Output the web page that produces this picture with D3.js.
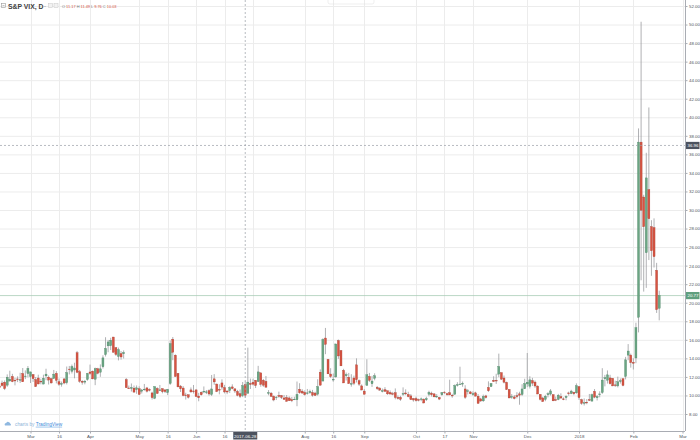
<!DOCTYPE html>
<html><head><meta charset="utf-8">
<script src="https://cdn.jsdelivr.net/npm/d3@7"></script>
<style>html,body{margin:0;padding:0;background:#fff;overflow:hidden}svg{display:block;font-family:"Liberation Sans",Arial,sans-serif}</style>
</head><body>
<svg id="c" width="700" height="440"></svg>
<script>
// ---- data ----
const dates = [
"2017-02-10","2017-02-13","2017-02-14","2017-02-15","2017-02-16","2017-02-17","2017-02-21","2017-02-22","2017-02-23","2017-02-24","2017-02-27","2017-02-28",
"2017-03-01","2017-03-02","2017-03-03","2017-03-06","2017-03-07","2017-03-08","2017-03-09","2017-03-10","2017-03-13","2017-03-14","2017-03-15","2017-03-16","2017-03-17","2017-03-20","2017-03-21","2017-03-22","2017-03-23","2017-03-24","2017-03-27","2017-03-28","2017-03-29","2017-03-30","2017-03-31",
"2017-04-03","2017-04-04","2017-04-05","2017-04-06","2017-04-07","2017-04-10","2017-04-11","2017-04-12","2017-04-13","2017-04-17","2017-04-18","2017-04-19","2017-04-20","2017-04-21","2017-04-24","2017-04-25","2017-04-26","2017-04-27","2017-04-28",
"2017-05-01","2017-05-02","2017-05-03","2017-05-04","2017-05-05","2017-05-08","2017-05-09","2017-05-10","2017-05-11","2017-05-12","2017-05-15","2017-05-16","2017-05-17","2017-05-18","2017-05-19","2017-05-22","2017-05-23","2017-05-24","2017-05-25","2017-05-26","2017-05-30","2017-05-31",
"2017-06-01","2017-06-02","2017-06-05","2017-06-06","2017-06-07","2017-06-08","2017-06-09","2017-06-12","2017-06-13","2017-06-14","2017-06-15","2017-06-16","2017-06-19","2017-06-20","2017-06-21","2017-06-22","2017-06-23","2017-06-26","2017-06-27","2017-06-28","2017-06-29","2017-06-30",
"2017-07-03","2017-07-05","2017-07-06","2017-07-07","2017-07-10","2017-07-11","2017-07-12","2017-07-13","2017-07-14","2017-07-17","2017-07-18","2017-07-19","2017-07-20","2017-07-21","2017-07-24","2017-07-25","2017-07-26","2017-07-27","2017-07-28","2017-07-31",
"2017-08-01","2017-08-02","2017-08-03","2017-08-04","2017-08-07","2017-08-08","2017-08-09","2017-08-10","2017-08-11","2017-08-14","2017-08-15","2017-08-16","2017-08-17","2017-08-18","2017-08-21","2017-08-22","2017-08-23","2017-08-24","2017-08-25","2017-08-28","2017-08-29","2017-08-30","2017-08-31",
"2017-09-01","2017-09-05","2017-09-06","2017-09-07","2017-09-08","2017-09-11","2017-09-12","2017-09-13","2017-09-14","2017-09-15","2017-09-18","2017-09-19","2017-09-20","2017-09-21","2017-09-22","2017-09-25","2017-09-26","2017-09-27","2017-09-28","2017-09-29",
"2017-10-02","2017-10-03","2017-10-04","2017-10-05","2017-10-06","2017-10-09","2017-10-10","2017-10-11","2017-10-12","2017-10-13","2017-10-16","2017-10-17","2017-10-18","2017-10-19","2017-10-20","2017-10-23","2017-10-24","2017-10-25","2017-10-26","2017-10-27","2017-10-30","2017-10-31",
"2017-11-01","2017-11-02","2017-11-03","2017-11-06","2017-11-07","2017-11-08","2017-11-09","2017-11-10","2017-11-13","2017-11-14","2017-11-15","2017-11-16","2017-11-17","2017-11-20","2017-11-21","2017-11-22","2017-11-24","2017-11-27","2017-11-28","2017-11-29","2017-11-30",
"2017-12-01","2017-12-04","2017-12-05","2017-12-06","2017-12-07","2017-12-08","2017-12-11","2017-12-12","2017-12-13","2017-12-14","2017-12-15","2017-12-18","2017-12-19","2017-12-20","2017-12-21","2017-12-22","2017-12-26","2017-12-27","2017-12-28","2017-12-29",
"2018-01-02","2018-01-03","2018-01-04","2018-01-05","2018-01-08","2018-01-09","2018-01-10","2018-01-11","2018-01-12","2018-01-16","2018-01-17","2018-01-18","2018-01-19","2018-01-22","2018-01-23","2018-01-24","2018-01-25","2018-01-26","2018-01-29","2018-01-30","2018-01-31",
"2018-02-01","2018-02-02","2018-02-05","2018-02-06","2018-02-07","2018-02-08","2018-02-09","2018-02-12","2018-02-13","2018-02-14","2018-02-15","2018-02-16","2018-02-20","2018-02-21","2018-02-22","2018-02-23","2018-02-26","2018-02-27","2018-02-28",
"2018-03-01","2018-03-02"];

const open = [
11.03,11.34,11.43,11.11,11.56,12.05,11.64,11.78,11.64,12.37,12.08,12.36,
12.05,12.25,11.72,11.88,11.54,11.23,12.11,11.97,11.80,11.83,12.38,11.48,11.21,11.78,11.37,12.84,12.61,12.75,14.60,12.56,11.54,11.44,11.72,
12.53,12.62,11.75,12.88,12.51,13.09,14.41,15.35,15.36,16.30,15.16,14.21,14.51,14.49,11.71,10.81,10.75,10.79,10.64,
10.72,10.46,10.68,10.81,10.64,10.27,9.69,10.75,10.53,10.73,10.60,10.31,11.29,16.07,14.34,12.38,11.01,10.80,10.05,10.07,10.60,10.48,
10.60,9.93,10.34,10.43,10.31,10.52,10.11,11.79,11.23,10.65,11.35,10.84,10.48,10.53,10.92,10.71,10.43,10.19,9.98,11.17,10.24,11.30,
11.42,11.63,11.50,12.44,11.64,11.52,10.29,10.25,9.91,9.75,10.00,9.99,9.73,9.78,9.73,9.56,9.60,9.53,10.67,10.47,
10.33,10.22,10.30,10.31,10.26,10.14,12.51,11.55,16.19,13.89,12.31,11.72,12.00,15.92,14.85,12.71,12.12,11.97,11.27,11.88,13.30,11.59,11.03,
10.47,11.10,12.05,11.26,11.85,10.88,10.78,10.48,10.61,10.50,10.32,10.20,10.30,9.79,9.79,10.20,10.27,10.10,9.95,9.66,
9.67,9.55,9.57,9.60,9.53,10.13,10.25,10.17,9.86,9.78,10.07,10.36,10.19,10.30,10.02,10.12,11.14,11.20,11.27,10.70,10.45,10.38,
10.09,10.28,9.92,9.63,9.42,9.95,10.86,10.96,11.64,11.63,12.30,12.46,11.88,11.41,10.65,9.81,9.84,9.98,10.17,10.10,10.72,
11.24,11.00,11.60,11.44,11.01,10.11,9.73,9.57,10.08,10.15,10.08,9.55,9.56,9.88,9.63,9.77,10.27,10.20,10.34,10.28,
10.95,9.54,9.17,9.27,9.55,9.39,10.44,9.75,10.12,10.31,11.80,11.65,11.89,11.85,11.14,11.03,11.50,11.80,12.05,14.35,14.35,
13.58,14.04,18.44,37.32,31.40,25.40,32.20,28.20,28.10,23.50,19.40];

const high = [
11.21,11.60,11.62,12.27,12.67,12.33,11.89,12.06,12.45,12.96,12.70,13.17,
12.55,12.30,11.99,12.24,11.80,12.24,12.88,12.15,11.90,12.75,12.62,11.82,11.50,11.88,13.12,13.18,13.33,13.53,14.80,12.75,11.64,11.67,12.43,
13.33,12.69,13.00,12.98,13.35,14.33,16.28,15.98,16.22,16.31,15.19,15.16,14.79,14.86,11.88,11.07,11.29,11.07,11.08,
10.99,10.70,11.24,10.92,10.76,10.40,10.96,10.88,11.13,10.76,10.65,10.70,15.92,16.30,14.43,12.42,11.13,11.01,10.29,10.10,10.86,11.13,
10.64,10.28,10.43,10.97,10.58,10.66,12.21,12.30,11.28,11.20,11.74,11.14,10.54,10.99,11.20,10.78,10.60,10.64,11.45,11.49,15.16,11.82,
11.80,11.66,13.19,12.45,11.78,12.10,10.58,10.38,10.01,9.93,10.41,10.05,10.05,10.05,9.90,9.84,9.86,11.50,11.32,10.68,
10.55,10.70,10.63,10.60,10.40,11.75,12.81,16.16,17.28,13.94,12.94,12.37,15.59,16.03,14.87,12.87,12.47,12.43,12.29,12.14,14.00,11.72,11.19,
10.68,13.90,12.43,12.11,12.39,11.02,10.91,10.75,10.90,10.52,10.54,10.39,10.76,10.00,9.96,10.87,10.66,10.40,10.15,9.74,
9.87,9.66,9.78,9.69,9.86,10.51,10.41,10.25,10.15,9.85,10.36,10.44,10.30,11.70,10.18,11.19,11.43,13.10,11.50,11.10,10.69,10.49,
10.44,10.40,10.15,9.75,10.09,10.07,11.52,11.32,12.07,12.34,14.51,12.46,12.15,11.49,10.67,10.15,10.04,10.35,10.40,11.21,11.80,
14.58,12.07,11.90,11.61,11.09,10.15,9.86,10.07,10.34,10.69,10.13,9.88,10.17,10.23,9.79,10.02,10.41,10.61,10.40,11.30,
10.99,9.65,9.68,9.61,10.16,10.20,10.69,10.04,10.45,12.94,12.22,12.70,12.23,11.86,11.59,12.03,11.83,11.83,14.16,15.54,14.51,
14.01,17.84,38.80,50.30,31.64,36.17,41.06,28.90,29.10,24.30,21.30];

const low = [
10.58,10.96,10.58,10.93,11.50,11.43,11.09,11.44,11.35,11.47,11.76,11.96,
11.34,11.46,10.92,11.20,11.20,11.20,11.65,11.18,11.28,11.79,11.30,11.04,10.95,11.21,11.19,12.27,12.37,11.85,12.40,11.36,11.16,11.20,11.59,
12.23,11.74,11.11,12.28,12.01,12.91,14.20,14.66,14.90,14.62,14.27,13.78,13.86,13.98,10.81,10.70,10.42,10.32,10.18,
10.04,10.21,10.51,10.32,10.44,9.56,9.60,10.19,10.47,10.23,10.26,10.04,11.14,13.80,12.04,10.87,10.37,9.91,9.56,9.67,10.31,10.21,
9.83,9.37,9.98,10.24,10.15,9.97,9.94,11.15,10.36,10.12,10.62,10.22,10.14,10.26,10.66,10.27,9.91,9.72,9.82,9.76,10.22,10.70,
11.08,10.80,11.46,10.94,10.93,10.87,10.02,9.83,9.37,9.52,9.75,9.62,9.52,9.36,9.43,9.28,9.51,8.84,10.18,10.19,
9.97,10.09,10.18,9.87,9.94,9.98,11.06,11.55,14.45,12.32,11.88,11.48,11.91,13.95,13.19,11.35,11.61,11.25,10.95,11.11,11.40,11.03,10.55,
10.13,11.04,11.46,10.92,11.63,10.60,10.48,10.33,10.42,10.06,10.15,10.02,9.58,9.56,9.42,9.96,10.03,9.80,9.55,9.33,
9.34,9.36,9.38,9.14,9.40,9.91,9.88,9.80,9.73,9.50,9.96,10.16,9.96,10.05,9.75,10.09,10.96,11.15,10.94,9.63,10.10,10.12,
9.96,9.90,9.14,9.32,9.30,9.67,10.38,10.91,11.48,11.24,11.97,11.66,11.30,10.59,9.71,9.64,9.58,9.68,9.00,9.95,10.69,
10.90,10.75,11.02,10.83,10.14,9.46,9.31,9.38,9.79,9.99,9.38,9.39,9.49,9.66,9.49,9.48,9.98,10.14,10.02,10.19,
9.52,8.99,8.92,9.05,9.40,9.36,9.70,9.46,9.80,10.17,10.98,11.28,11.18,11.00,10.92,10.87,11.28,10.99,11.73,13.80,13.00,
12.80,13.48,16.80,22.42,21.20,21.60,24.60,22.90,23.80,18.90,18.10];

const close = [
10.85,11.07,10.74,11.97,11.76,11.49,11.57,11.74,11.71,11.47,12.09,12.92,
12.54,11.81,10.96,11.24,11.45,11.86,12.30,11.66,11.35,12.30,11.63,11.21,11.28,11.34,12.47,12.81,13.12,12.96,12.50,11.53,11.42,11.54,12.37,
12.38,11.79,12.89,12.39,12.87,14.05,15.07,15.77,15.96,14.66,14.42,14.93,14.15,14.63,10.84,10.76,10.85,10.36,10.82,
10.11,10.59,10.68,10.46,10.57,9.77,10.96,10.21,10.60,10.40,10.42,10.65,15.59,14.66,12.04,10.93,10.72,9.99,9.99,9.81,10.38,10.41,
9.89,9.75,10.07,10.45,10.39,10.16,10.70,11.46,10.42,10.64,10.90,10.38,10.37,10.86,10.75,10.48,10.02,9.90,11.06,10.03,11.44,11.18,
11.22,11.07,12.54,11.19,11.11,10.89,10.30,9.90,9.51,9.82,9.89,9.79,9.58,9.36,9.43,9.43,9.60,10.11,10.29,10.26,
10.09,10.28,10.44,10.03,10.00,10.96,11.11,16.04,15.51,12.33,12.04,11.74,15.55,14.26,13.19,11.35,12.25,11.28,11.28,11.32,11.70,11.22,10.59,
10.13,12.23,11.63,11.55,12.12,10.73,10.58,10.50,10.44,10.17,10.15,10.18,9.78,9.67,9.59,10.21,10.17,9.87,9.55,9.51,
9.45,9.51,9.63,9.19,9.65,10.33,10.08,9.85,9.91,9.61,10.31,10.31,10.07,10.05,9.97,11.07,11.16,11.23,11.30,9.80,10.50,10.18,
10.20,9.93,9.14,9.40,9.89,9.78,10.50,11.29,11.50,11.59,13.13,11.76,11.43,10.65,9.73,9.88,9.67,9.87,10.03,10.70,11.28,
11.43,11.68,11.33,11.02,10.16,9.58,9.34,9.92,10.18,10.49,9.42,9.53,10.03,9.72,9.62,9.90,10.25,10.47,10.18,11.04,
9.77,9.15,9.22,9.22,9.52,10.08,9.82,9.88,10.16,11.66,11.91,12.22,11.27,11.03,11.10,11.47,11.58,11.08,13.84,14.79,13.54,
13.47,17.31,37.32,29.98,28.20,33.46,29.06,25.61,24.97,19.26,20.77];

const priceTicks = [8,10,12,14,16,18,20,22,24,26,28,30,32,34,36,38,40,42,44,46,48,50,52];
const timeTickDates = ["2017-03-01","2017-03-16","2017-04-03","2017-05-01","2017-05-16","2017-06-01","2017-06-16","2017-07-03","2017-08-01","2017-08-16","2017-09-01","2017-10-02","2017-10-17","2017-11-01","2017-12-01","2018-01-02","2018-02-01","2018-03-01"];
// "Jul" is hidden behind the crosshair date tag in the reference
const timeTickLabels = ["Mar","16","Apr","May","16","Jun","16","","Aug","16","Sep","Oct","17","Nov","Dec","2018","Feb","Mar"];
const crossDate = "2017-06-28";
const crossPrice = 36.96;
const lastPrice = 20.77;
const titleText = "S&P VIX, D";
const ohlcLetters = ["O","H","L","C"];
const ohlcValues = ["11.17","11.49","9.76","10.03"];

// ---- layout ----
const W = 700, H = 440, plotR = 685, plotB = 431;
const svg = d3.select("#c");
const idx = d => dates.indexOf(d);
const x = d3.scaleLinear().domain([idx("2017-03-01"), idx("2018-03-01")]).range([30.5, 682.5]);
const y = d3.scaleLinear().domain([8, 52]).range([414, 6]);
const upCol = "#6ba583", dnCol = "#d75442", upBorder = "#4a8566", dnBorder = "#a83e31";
const gridCol = "#ececec", axisCol = "#a9acb3", textCol = "#4f5560";

svg.append("rect").attr("width", W).attr("height", H).attr("fill", "#fff");
svg.append("defs").append("clipPath").attr("id","plot").append("rect").attr("x",0).attr("y",0).attr("width",plotR).attr("height",plotB);

// grid
const grid = svg.append("g");
grid.selectAll("line.h").data(priceTicks).join("line")
  .attr("x1",0).attr("x2",plotR).attr("y1",d=>y(d)+0.5).attr("y2",d=>y(d)+0.5)
  .attr("stroke",gridCol).attr("stroke-width",1);
grid.selectAll("line.v").data(timeTickDates).join("line")
  .attr("x1",d=>Math.round(x(idx(d)))+0.5).attr("x2",d=>Math.round(x(idx(d)))+0.5).attr("y1",0).attr("y2",plotB)
  .attr("stroke",gridCol).attr("stroke-width",1);

// top faint box
svg.append("rect").attr("x",328).attr("y",-4).attr("width",46).attr("height",8).attr("rx",2)
  .attr("fill","none").attr("stroke","#e4e4e4").attr("stroke-width",0.6);

// last price line
svg.append("line").attr("x1",0).attr("x2",plotR).attr("y1",y(lastPrice)).attr("y2",y(lastPrice))
  .attr("stroke","#a9cdb8").attr("stroke-width",0.8);

// candles
const bars = d3.range(close.length);
const cg = svg.append("g").attr("clip-path","url(#plot)");
cg.selectAll("line.w").data(bars).join("line")
  .attr("x1",i=>x(i)).attr("x2",i=>x(i)).attr("y1",i=>y(high[i])).attr("y2",i=>y(low[i]))
  .attr("stroke","#8e8f93").attr("stroke-width",0.7);
cg.selectAll("rect.b").data(bars).join("rect")
  .attr("x",i=>x(i)-1).attr("width",2)
  .attr("y",i=>y(Math.max(open[i],close[i])))
  .attr("height",i=>Math.max(0.7, Math.abs(y(open[i])-y(close[i]))))
  .attr("fill",i=>close[i]>=open[i]?upCol:dnCol)
  .attr("stroke",i=>close[i]>=open[i]?upBorder:dnBorder).attr("stroke-width",0.35);

// crosshair
svg.append("line").attr("x1",x(idx(crossDate))).attr("x2",x(idx(crossDate))).attr("y1",0).attr("y2",plotB)
  .attr("stroke","#9a9ea6").attr("stroke-width",0.7).attr("stroke-dasharray","2,2");
svg.append("line").attr("x1",0).attr("x2",plotR).attr("y1",y(crossPrice)).attr("y2",y(crossPrice))
  .attr("stroke","#9a9ea6").attr("stroke-width",0.7).attr("stroke-dasharray","2,2");

// axes
const fs = 4.4;
const yAxis = svg.append("g").attr("transform",`translate(${plotR+0.5},0)`)
  .call(d3.axisRight(y).tickValues(priceTicks).tickFormat(d3.format(".2f")).tickSize(2).tickPadding(1.5));
const xAxis = svg.append("g").attr("transform",`translate(0,${plotB+0.5})`)
  .call(d3.axisBottom(x).tickValues(timeTickDates.map(idx)).tickFormat((d,i)=>timeTickLabels[i]).tickSize(2).tickPadding(1.5));
[yAxis,xAxis].forEach(a=>{
  a.select(".domain").attr("stroke",axisCol).attr("stroke-width",1);
  a.selectAll(".tick line").attr("stroke",axisCol);
  a.selectAll(".tick text").attr("fill",textCol).attr("font-size",fs).attr("font-family","Liberation Sans, Arial, sans-serif");
});
xAxis.select(".domain").attr("d",`M0,0H${plotR}`);
yAxis.select(".domain").attr("d",`M0,0V${plotB}`);

// price labels on axis
function priceTag(v, txt, bg){
  const g = svg.append("g");
  g.append("rect").attr("x",plotR+1).attr("y",y(v)-3.6).attr("width",13.5).attr("height",7.2).attr("fill",bg);
  g.append("text").attr("x",plotR+2.5).attr("y",y(v)+1.6).attr("fill","#fff").attr("font-size",fs).text(txt);
}
priceTag(crossPrice, d3.format(".2f")(crossPrice), "#4c525e");
priceTag(lastPrice, d3.format(".2f")(lastPrice), "#5f9f7e");

// time label box
const cx = x(idx(crossDate));
svg.append("rect").attr("x",cx-12).attr("y",plotB+1).attr("width",24).attr("height",7.5).attr("fill","#4c525e");
svg.append("text").attr("x",cx).attr("y",plotB+6.5).attr("text-anchor","middle").attr("fill","#fff").attr("font-size",fs).text(crossDate);

// title
const tg = svg.append("g");
tg.append("rect").attr("x",1.5).attr("y",3.5).attr("width",4).attr("height",4).attr("fill","none").attr("stroke","#999").attr("stroke-width",0.6);
tg.append("line").attr("x1",2.5).attr("x2",4.5).attr("y1",5.5).attr("y2",5.5).attr("stroke","#999").attr("stroke-width",0.6);
tg.append("text").attr("x",8).attr("y",8.6).attr("font-size",6.8).attr("font-weight","bold").attr("fill","#404040").text(titleText);
tg.append("text").attr("x",44).attr("y",8.2).attr("font-size",6).attr("fill","#808080").text("-");
[48.5,54].forEach(px=>tg.append("rect").attr("x",px).attr("y",3.6).attr("width",4).attr("height",4).attr("fill","#f2f2f2").attr("stroke","#c8c8c8").attr("stroke-width",0.5));
const ot = tg.append("text").attr("x",62).attr("y",7.8).attr("font-size",3.9);
ohlcLetters.forEach((L,i)=>{
  ot.append("tspan").attr("fill","#7a7a7a").text((i?" ":"")+L+" ");
  ot.append("tspan").attr("fill",dnCol).text(ohlcValues[i]);
});

// footer logo
const fg = svg.append("g");
fg.append("path").attr("d","M5,425.5 a1.6,1.6 0 0 1 1.2,-2.6 a2.2,2.2 0 0 1 4,0.6 a1.4,1.4 0 0 1 0.5,2 Z").attr("fill","#8fb8e0");
const ft = fg.append("text").attr("x",15).attr("y",425.8).attr("font-size",4.8);
ft.append("tspan").attr("fill","#8fb4d9").text("charts by ");
ft.append("tspan").attr("fill","#3d8bd9").attr("text-decoration","underline").text("TradingView");
</script>
</body></html>
